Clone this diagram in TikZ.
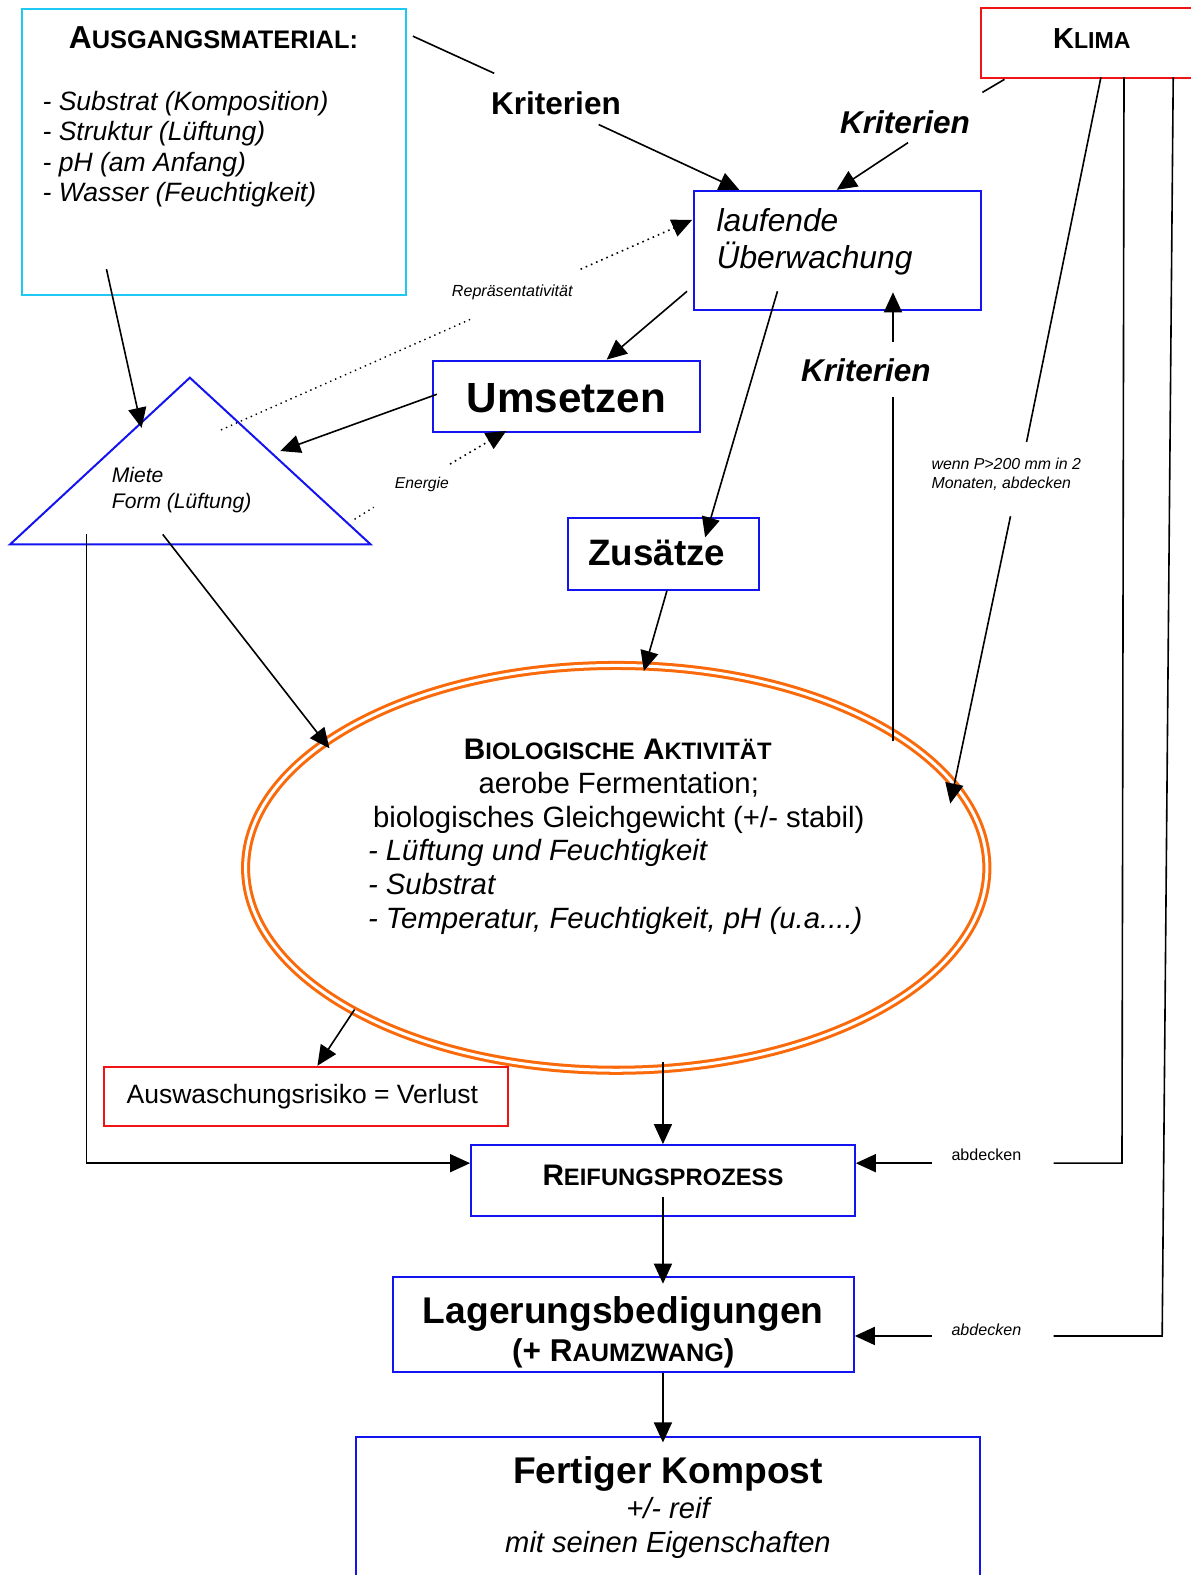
\documentclass[tikz,border=0pt]{standalone}
\usepackage{fontspec}
\setmainfont{Liberation Sans}
\usetikzlibrary{arrows.meta,calc,shapes.geometric}

\definecolor{kastenblau}{RGB}{20,20,240}
\definecolor{kastencyan}{RGB}{30,200,245}
\definecolor{kastenrot}{RGB}{240,20,20}
\definecolor{ringorange}{RGB}{250,105,10}

\newcommand{\gross}[2]{\fontsize{#1}{#2}\selectfont}
\newcommand{\kap}[1]{\scalebox{0.8}{#1}}

\tikzset{
  kasten/.style={draw=kastenblau, line width=1pt, inner sep=0pt},
  pfeil/.style={-{Triangle[length=10pt,width=9pt]}, line width=0.8pt},
  linie/.style={line width=0.8pt},
  punkte/.style={dotted, line width=0.7pt},
  zeile/.style={inner sep=0pt, anchor=base west},
  mitte/.style={inner sep=0pt, anchor=base},
}

\begin{document}
\begin{tikzpicture}[x=0.5pt,y=-0.5pt]
\useasboundingbox (0,0) rectangle (1185,1568);

% Kaesten
\node[kasten, draw=kastencyan, minimum width=191pt, minimum height=142.5pt] (ausg) at (213,151.5) {};
\node[kasten, draw=kastenrot, minimum width=111.5pt, minimum height=35pt] (klima) at (1088.5,43) {};
\node[kasten, minimum width=143pt, minimum height=59.5pt] (ueberw) at (834,249.5) {};
\node[kasten, minimum width=133pt, minimum height=35.5pt] (umsetzen) at (564,394.5) {};
\node[kasten, minimum width=95.5pt, minimum height=35.5pt] (zusaetze) at (660.5,551.5) {};
\node[kasten, draw=ringorange, line width=1.5pt, ellipse, double=white, double distance=1.5pt,
      minimum width=369pt, minimum height=201.5pt] (bio) at (613.5,864) {};
\node[kasten, draw=kastenrot, minimum width=201pt, minimum height=29.5pt] (ausw) at (305,1091.5) {};
\node[kasten, minimum width=191pt, minimum height=35.5pt] (reif) at (660,1175.5) {};
\node[kasten, minimum width=229.5pt, minimum height=47.5pt] (lager) at (620.5,1318.5) {};
\node[kasten, minimum width=311pt, minimum height=80pt] (fertig) at (665,1511) {};

% Miete
\draw[kastenblau, line width=1pt] (189,376) coordinate (spitze) -- (369,542) coordinate (rechts)
  -- (10,542) coordinate (links) -- cycle;

% Texte
\node[mitte, font=\gross{15.8pt}{19pt}\bfseries] (ausgT) at (212.5,48) {A\kap{USGANGSMATERIAL:}};
\node[zeile, font=\gross{13.2pt}{15.5pt}\itshape] (ausg1) at (42,110) {- Substrat (Komposition)};
\node[zeile, font=\gross{13.2pt}{15.5pt}\itshape] (ausg2) at (42,140) {- Struktur (Lüftung)};
\node[zeile, font=\gross{13.2pt}{15.5pt}\itshape] (ausg3) at (42,171) {- pH (am Anfang)};
\node[zeile, font=\gross{13.2pt}{15.5pt}\itshape] (ausg4) at (42,201) {- Wasser (Feuchtigkeit)};
\node[mitte, font=\gross{14.4pt}{17pt}\bfseries] (klimaT) at (1087,48) {K\kap{LIMA}};
\node[mitte, font=\gross{15.7pt}{19pt}\bfseries] (kritA) at (553.5,114) {Kriterien};
\node[mitte, font=\gross{15.7pt}{19pt}\bfseries\itshape] (kritB) at (901,133) {Kriterien};
\node[mitte, font=\gross{15.7pt}{19pt}\bfseries\itshape] (kritC) at (862,380) {Kriterien};
\node[zeile, font=\gross{15.8pt}{18.5pt}\itshape] (ueberw1) at (713,230) {laufende};
\node[zeile, font=\gross{15.8pt}{18.5pt}\itshape] (ueberw2) at (713,267) {Überwachung};
\node[mitte, font=\gross{8pt}{10pt}\itshape] (repr) at (510,295) {Repräsentativität};
\node[mitte, font=\gross{21pt}{25pt}\bfseries] (umsetzenT) at (564,411) {Umsetzen};
\node[zeile, font=\gross{10.5pt}{13pt}\itshape] (miete1) at (111,480) {Miete};
\node[zeile, font=\gross{10.5pt}{13pt}\itshape] (miete2) at (111,506) {Form (Lüftung)};
\node[mitte, font=\gross{7.8pt}{10pt}\itshape] (energie) at (420,486) {Energie};
\node[mitte, font=\gross{18.3pt}{22pt}\bfseries] (zusaetzeT) at (654,563) {Zusätze};
\node[zeile, font=\gross{7.9pt}{10pt}\itshape] (wenn1) at (927,467) {wenn P>200 mm in 2};
\node[zeile, font=\gross{7.9pt}{10pt}\itshape] (wenn2) at (927,486) {Monaten, abdecken};
\node[mitte, font=\gross{14.8pt}{17pt}\bfseries] (bioT) at (615,756) {B\kap{IOLOGISCHE} A\kap{KTIVITÄT}};
\node[mitte, font=\gross{14.6pt}{17pt}] (bio1) at (616,790) {aerobe Fermentation;};
\node[mitte, font=\gross{14.6pt}{17pt}] (bio2) at (616,824) {biologisches Gleichgewicht (+/- stabil)};
\node[zeile, font=\gross{14.6pt}{17pt}\itshape] (bio3) at (366,857) {- Lüftung und Feuchtigkeit};
\node[zeile, font=\gross{14.6pt}{17pt}\itshape] (bio4) at (366,891) {- Substrat};
\node[zeile, font=\gross{14.6pt}{17pt}\itshape] (bio5) at (366,924) {- Temperatur, Feuchtigkeit, pH (u.a....)};
\node[mitte, font=\gross{13.2pt}{16pt}] (auswT) at (301,1099) {Auswaschungsrisiko = Verlust};
\node[mitte, font=\gross{8pt}{10pt}] (abdeck1) at (982,1155) {abdecken};
\node[mitte, font=\gross{14.8pt}{17pt}\bfseries] (reifT) at (660,1180) {R\kap{EIFUNGSPROZESS}};
\node[mitte, font=\gross{18.5pt}{22pt}\bfseries] (lagerT) at (620.5,1318) {Lagerungsbedigungen};
\node[mitte, font=\gross{15.7pt}{19pt}\bfseries] (lagerT2) at (620.5,1355) {(+ R\kap{AUMZWANG})};
\node[mitte, font=\gross{8pt}{10pt}\itshape] (abdeck2) at (982,1330) {abdecken};
\node[mitte, font=\gross{18.5pt}{22pt}\bfseries] (fertigT) at (665,1477) {Fertiger Kompost};
\node[mitte, font=\gross{14.5pt}{17pt}\itshape] (fertig1) at (665,1512) {+/- reif};
\node[mitte, font=\gross{14.5pt}{17pt}\itshape] (fertig2) at (665,1546) {mit seinen Eigenschaften};

% freie Enden
\coordinate (kA1) at (411,36);
\coordinate (kA2) at (492,73);
\coordinate (kA3) at (596,124);
\coordinate (kB1) at (978,92);
\coordinate (kB2) at (904,142);
\coordinate (r1) at (220,428);
\coordinate (r2) at (468,318);
\coordinate (r3) at (578,268);
\coordinate (m1) at (279,449);
\coordinate (e1) at (353,517);
\coordinate (e2) at (372,505);
\coordinate (e3) at (448,462);
\coordinate (a1) at (106,268);
\coordinate (a2) at (141,426);
\coordinate (kC1) at (889,738);
\coordinate (kC2) at (889,395);
\coordinate (kC3) at (889,340);
\coordinate (w1) at (1022,440);
\coordinate (w2) at (1006,514);
\coordinate (b1) at (946,800);
\coordinate (b2) at (641,668);
\coordinate (b3) at (162,532);
\coordinate (b4) at (328,745);
\coordinate (b5) at (353,1005);
\coordinate (b6) at (86,532);
\coordinate (k1) at (1117,1158);
\coordinate (k2) at (1049,1158);
\coordinate (k3) at (928,1158);
\coordinate (k4) at (1157,1330);
\coordinate (k5) at (1049,1330);
\coordinate (k6) at (928,1330);

% Verbindungen
\draw[linie] (kA1) -- (kA2);
\draw[pfeil] (kA3) -- ($(ueberw.north west)+(46,0)$);
\draw[linie] ($(klima.south west)+(24,0)$) -- (kB1);
\draw[pfeil] (kB2) -- ($(ueberw.north west)+(143,0)$);
\draw[punkte] (r1) -- (r2);
\draw[punkte, pfeil] (r3) -- ($(ueberw.north west)+(-1,30)$);
\draw[pfeil] ($(ueberw.south west)+(-6,-20)$) -- ($(umsetzen.north west)+(174,0)$);
\draw[pfeil] ($(umsetzen.west)+(5,-2)$) -- (m1);
\draw[punkte] (e1) -- (e2);
\draw[punkte, pfeil] (e3) -- ($(umsetzen.south west)+(74,-2)$);
\draw[pfeil] (a1) -- (a2);
\draw[pfeil] ($(ueberw.south west)+(84,-20)$) -- ($(zusaetze.north west)+(138,20)$);
\draw[linie] (kC1) -- (kC2);
\draw[pfeil] (kC3) -- ($(kC3 |- ueberw.south)+(0,-19)$);
\draw[linie] ($(klima.south west)+(120,-2)$) -- (w1);
\draw[pfeil] (w2) -- (b1);
\draw[pfeil] ($(zusaetze.south west)+(100,0)$) -- (b2);
\draw[pfeil] (b3) -- (b4);
\draw[pfeil] (b5) -- ($(ausw.north west)+(213,0)$);
\draw[pfeil] ($(reif.north)+(0,-82)$) -- (reif.north);
\draw[pfeil] (b6) |- ($(reif.north west)+(0,19)$);
\draw[linie] ($(klima.south west)+(143,-2)$) -- (k1) -- (k2);
\draw[pfeil] (k3) -- (k3 -| reif.east);
\draw[pfeil] ($(reif.south)+(0,-20)$) -- ($(reif.south |- lager.north)+(0,8)$);
\draw[linie] ($(klima.south west)+(192,-2)$) -- (k4) -- (k5);
\draw[pfeil] (k6) -- (k6 -| lager.east);
\draw[pfeil] ($(lager.south)+(39.5,0)$) -- ($(fertig.north)+(-5,6)$);
\end{tikzpicture}
\end{document}
